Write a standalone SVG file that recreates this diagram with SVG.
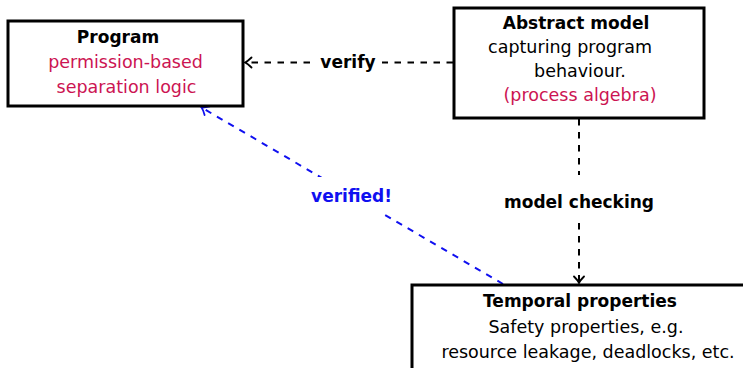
<svg xmlns="http://www.w3.org/2000/svg" width="743" height="368" viewBox="0 0 743 368">
  <style>
    .box { fill: #ffffff; stroke: #000000; stroke-width: 3; }
    .t { font-family: "DejaVu Sans", "Noto Sans", sans-serif; font-size: 17.5px; fill: #000000; text-anchor: middle; }
    .b { font-weight: bold; font-size: 17px; }
    .red { fill: #cc1452; }
    .blue { fill: #1010f0; }
    .edge { fill: none; stroke-width: 2; stroke-dasharray: 6.5 6.5; }
    .lblbg { fill: #ffffff; stroke: none; }
  </style>
  <defs>
    <marker id="tipBlack" markerUnits="userSpaceOnUse" viewBox="-9 -7 11 14" markerWidth="11" markerHeight="14" refX="0" refY="0" orient="auto">
      <path d="M-6.5,-5 Q-2.5,-1 0,0 Q-2.5,1 -6.5,5" fill="none" stroke="#000000" stroke-width="1.8" stroke-linecap="round"/>
    </marker>
    <marker id="tipBlue" markerUnits="userSpaceOnUse" viewBox="-9 -7 11 14" markerWidth="11" markerHeight="14" refX="0" refY="0" orient="auto">
      <path d="M-6.5,-5 Q-2.5,-1 0,0 Q-2.5,1 -6.5,5" fill="none" stroke="#1010f0" stroke-width="1.8" stroke-linecap="round"/>
    </marker>
  </defs>

  <!-- connectors -->
  <g id="connectors">
    <line class="edge" stroke="#000000" x1="453" y1="62.5" x2="245" y2="62.5" marker-end="url(#tipBlack)"/>
    <rect class="lblbg" x="312" y="50" width="70" height="26"/>
    <text class="t b" x="348" y="68">verify</text>

    <line class="edge" stroke="#000000" x1="579" y1="119" x2="579" y2="283" marker-end="url(#tipBlack)"/>
    <rect class="lblbg" x="500" y="175" width="158" height="47"/>
    <text class="t b" x="579" y="208">model checking</text>

    <line class="edge" stroke="#1010f0" x1="503" y1="284" x2="201.5" y2="107.5" marker-end="url(#tipBlue)"/>
    <rect class="lblbg" x="311" y="177" width="81" height="37"/>
    <text class="t b blue" x="351.5" y="202">verified!</text>
  </g>

  <!-- program node -->
  <g id="program">
    <rect class="box" x="8" y="21" width="235" height="85"/>
    <text class="t b" x="118" y="43">Program</text>
    <text class="t red" x="125.5" y="68">permission-based</text>
    <text class="t red" x="126.5" y="93">separation logic</text>
  </g>

  <!-- abstract model node -->
  <g id="abstract-model">
    <rect class="box" x="454" y="8" width="250" height="110"/>
    <text class="t b" x="576" y="29">Abstract model</text>
    <text class="t" x="570" y="53">capturing program</text>
    <text class="t" x="580" y="77">behaviour.</text>
    <text class="t red" x="580" y="101">(process algebra)</text>
  </g>

  <!-- temporal properties node -->
  <g id="temporal-properties">
    <rect class="box" x="412" y="285" width="344" height="100"/>
    <text class="t b" x="580" y="307">Temporal properties</text>
    <text class="t" x="586" y="333">Safety properties, e.g.</text>
    <text class="t" x="588" y="358">resource leakage, deadlocks, etc.</text>
  </g>
</svg>
